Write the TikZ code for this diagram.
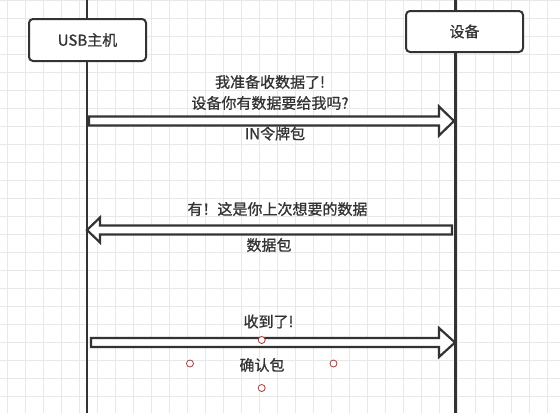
\documentclass[tikz,border=0pt]{standalone}
\usepackage{fontspec}
\setmainfont{Noto Sans CJK SC}[FakeBold=0.9]
\usetikzlibrary{calc,positioning}
\definecolor{ink}{RGB}{51,51,51}
\definecolor{gridc}{RGB}{232,232,232}
\definecolor{handle}{RGB}{160,60,60}

\tikzset{
  lifebox/.style={draw=ink,line width=2pt,fill=white,rounded corners=4pt,
    minimum width=117pt,inner sep=0pt,font=\fontsize{15}{18}\selectfont,text=ink},
  lifeline/.style={draw=ink,line width=2.2pt},
  blockarrow/.style={draw=ink,line width=2.2pt,fill=white,line join=miter},
  msg/.style={font=\fontsize{15}{21}\selectfont,text=ink,align=center,inner sep=0pt},
  handledot/.style={draw=handle,fill=white,line width=0.8pt,circle,
    minimum size=7pt,inner sep=0pt}
}

\begin{document}
\begin{tikzpicture}[x=1pt,y=-1pt]
    \useasboundingbox (0,0) rectangle (560,413);
    \fill[white] (0,0) rectangle (560,413);
    % background grid
    \foreach \i in {0,...,30}
      \draw[gridc,line width=1pt] ({7.3+18*\i},0) -- ({7.3+18*\i},413);
    \foreach \j in {0,...,23}
      \draw[gridc,line width=1pt] (0,{18*\j}) -- (560,{18*\j});

    % lifelines
    \coordinate (hosttop) at (87,0);
    \coordinate (hostbot) at (87,413);
    \coordinate (devtop) at (455.5,0);
    \coordinate (devbot) at (455.5,413);
    \draw[lifeline] (hosttop) -- (hostbot);
    \draw[lifeline] (devtop) -- (devbot);

    \node[lifebox,minimum height=42pt] (host) at (87.5,40) {USB主机};
    \node[lifebox,minimum height=41pt] (dev) at (464.5,31.5) {设备};

    % IN token
    \coordinate (h1) at (89,121);
    \coordinate (d1) at (454,121);
    \draw[blockarrow] ($(h1)+(0,-4.5)$) -- ($(d1)+(-15,-4.5)$) -- ($(d1)+(-15,-14.5)$)
      -- (d1) -- ($(d1)+(-15,14.5)$) -- ($(d1)+(-15,4.5)$) -- ($(h1)+(0,4.5)$) -- cycle;
    \node[msg] (ask) at (270,92.5) {我准备收数据了!\\设备你有数据要给我吗?};
    \node[msg] (intok) at (275,133.5) {IN令牌包};

    % data
    \coordinate (d2) at (452,230);
    \coordinate (h2) at (87,230);
    \draw[blockarrow] ($(d2)+(0,-4.5)$) -- ($(h2)+(13,-4.5)$) -- ($(h2)+(13,-12.5)$)
      -- (h2) -- ($(h2)+(13,12.5)$) -- ($(h2)+(13,4.5)$) -- ($(d2)+(0,4.5)$) -- cycle;
    \node[msg] (reply) at (277.5,209) {有！这是你上次想要的数据};
    \node[msg] (datapk) at (269,245) {数据包};

    % handshake
    \coordinate (h3) at (91,342.5);
    \coordinate (d3) at (455,342.5);
    \draw[blockarrow] ($(h3)+(0,-4.5)$) -- ($(d3)+(-16,-4.5)$) -- ($(d3)+(-16,-14.5)$)
      -- (d3) -- ($(d3)+(-16,14.5)$) -- ($(d3)+(-16,4.5)$) -- ($(h3)+(0,4.5)$) -- cycle;
    \node[msg] (got) at (268.5,321.5) {收到了!};
    \node[msg] (ack) at (262,365) {确认包};

    % selection handles
    \foreach \p/\q [count=\k] in {261.7/340,190/363.5,333.5/363.5,261.7/388}
      \node[handledot] (hd\k) at (\p,\q) {};
\end{tikzpicture}
\end{document}
